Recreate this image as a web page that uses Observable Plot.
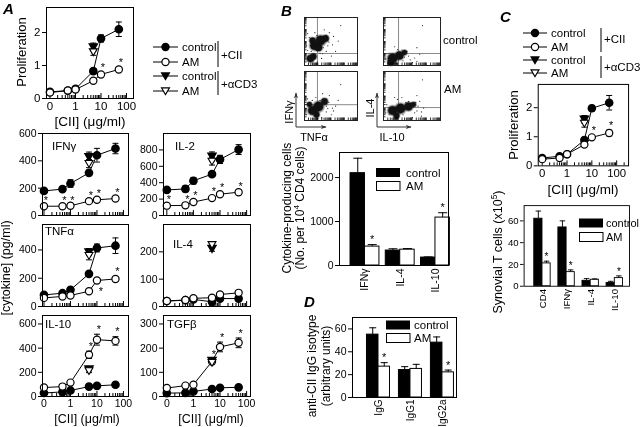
<!DOCTYPE html>
<html><head><meta charset="utf-8">
<script src="https://cdn.jsdelivr.net/npm/d3@7"></script>
<script src="https://cdn.jsdelivr.net/npm/@observablehq/plot@0.6"></script>
<style>
body{margin:0;background:#fff}
#fig{position:relative;width:640px;height:427px;overflow:hidden;background:#fff;font-family:"Liberation Sans",Arial,sans-serif}
#fig .pl{position:absolute;will-change:transform}
#ov{position:absolute;left:0;top:0;overflow:visible}
</style></head><body><div id="fig"></div>
<script>
// ---------------- DATA ----------------
const conc = [0, 0.5, 1, 5, 10, 50];     // [CII] µg/ml (0 drawn at axis origin)
const cd3Dose = 5;                         // alpha-CD3 points drawn at this column

// A: proliferation
const prolA_ctrl = [0.20, 0.24, 0.29, 0.83, 1.82, 2.10];
const prolA_ctrlErr = [0.03, 0.03, 0.04, 0.08, 0.11, 0.22];
const prolA_am = [0.18, 0.24, 0.27, 0.54, 0.73, 0.88];
const prolA_amErr = [0.03, 0.03, 0.03, 0.05, 0.06, 0.06];
const prolA_cd3 = [1.56, 0.12, 1.41, 0.10]; // control, err, AM, err
const prolA_stars = [4, 5];

// A: cytokines (pg/ml)
const ifng_ctrl = [180, 193, 234, 312, 441, 490];
const ifng_ctrlErr = [10, 10, 28, 15, 50, 38];
const ifng_am = [68, 68, 71, 105, 115, 124];
const ifng_amErr = [5, 5, 5, 8, 8, 8];
const ifng_cd3 = [429, 35, 380, 30];
const ifng_stars = [0, 1, 2, 3, 4, 5];

const il2_ctrl = [312, 324, 424, 504, 684, 804];
const il2_ctrlErr = [20, 35, 40, 20, 50, 60];
const il2_am = [120, 124, 164, 212, 260, 284];
const il2_amErr = [10, 10, 15, 15, 15, 15];
const il2_cd3 = [720, 55, 660, 45];
const il2_stars = [0, 1, 2, 3, 4, 5];

const tnf_ctrl = [82, 94, 118, 231, 414, 430];
const tnf_ctrlErr = [12, 10, 12, 15, 28, 55];
const tnf_am = [61, 71, 78, 108, 184, 195];
const tnf_amErr = [8, 5, 5, 8, 8, 15];
const tnf_cd3 = [385, 25, 360, 30];
const tnf_stars = [5];
const tnf_starsBelow = [4];

const il4_ctrl = [20, 23, 26, 17, 29, 29];
const il4_ctrlErr = [3, 3, 3, 3, 3, 3];
const il4_am = [20, 24, 30, 32, 44, 50];
const il4_amErr = [3, 3, 3, 3, 4, 4];
const il4_cd3 = [212, 10, 226, 10];
const il4_stars = [];

const il10_ctrl = [29, 38, 50, 82, 88, 97];
const il10_ctrlErr = [5, 5, 5, 8, 8, 8];
const il10_am = [74, 82, 115, 345, 470, 460];
const il10_amErr = [8, 8, 8, 30, 45, 35];
const il10_cd3 = [226, 15, 212, 15];
const il10_stars = [3, 4, 5];

const tgf_ctrl = [14, 15, 21, 31, 36, 38];
const tgf_ctrlErr = [2, 2, 3, 3, 3, 3];
const tgf_am = [35, 45, 49, 145, 205, 222];
const tgf_amErr = [3, 3, 4, 10, 20, 20];
const tgf_cd3 = [148, 8, 140, 8];
const tgf_stars = [3, 4, 5];

// C: proliferation
const prolC_ctrl = [0.27, 0.33, 0.40, 0.89, 1.98, 2.17];
const prolC_ctrlErr = [0.03, 0.03, 0.04, 0.06, 0.10, 0.25];
const prolC_am = [0.23, 0.27, 0.40, 0.73, 0.98, 1.13];
const prolC_amErr = [0.03, 0.03, 0.03, 0.05, 0.06, 0.10];
const prolC_cd3 = [1.60, 0.13, 1.46, 0.13];
const prolC_stars = [4, 5];

// B: cytokine-producing cells
const facsCats = ["IFNγ", "IL-4", "IL-10"];
const facs_ctrl = [2100, 340, 180];
const facs_ctrlErr = [340, 40, 15];
const facs_am = [430, 360, 1090];
const facs_amErr = [45, 25, 110];
const facs_stars = [0, 2];

// C: synovial T cells (x10^5)
const synCats = ["CD4", "IFNγ", "IL-4", "IL-10"];
const syn_ctrl = [62, 54, 5, 3];
const syn_ctrlErr = [7, 6, 2, 1.5];
const syn_am = [21, 13, 6, 7.5];
const syn_amErr = [2, 2, 0.7, 2];
const syn_stars = [0, 1, 3];

// D: anti-CII IgG isotype
const igCats = ["IgG", "IgG1", "IgG2a"];
const ig_ctrl = [55, 24, 48];
const ig_ctrlErr = [6, 3, 5];
const ig_am = [27, 25, 22];
const ig_amErr = [3.5, 4, 2];
const ig_stars = [0, 2];

// B: flow cytometry (channel units 0-1023, 4 log decades); clusters [x, y, events]
const flowTL_clusters = [[193,426,36],[309,533,42],[405,575,20],[154,533,16],[270,384,25],[116,149,25],[174,192,16]];
const flowBL_clusters = [[154,209,36],[270,292,42],[386,397,20],[232,125,16],[96,334,12]];
const flowTR_clusters = [[162,149,42],[287,213,30],[377,277,12],[126,64,16]];
const flowBR_clusters = [[162,209,36],[305,251,42],[449,292,30],[538,334,12],[233,104,16]];
const flowTL_events = [[420,300],[480,700],[560,620],[380,760],[520,200],[650,520],[330,150],[600,300],[700,850],[90,600],[450,420],[200,700],[60,320],[350,250],[470,500],[250,80],[540,440],[420,640],[60,680],[130,300],[240,640],[360,380],[40,420],[300,260]];
const flowBL_events = [[420,300],[480,520],[560,200],[350,560],[520,120],[650,420],[330,60],[600,300],[700,750],[60,450],[450,250],[220,480],[40,120],[300,420],[470,380],[260,40],[540,260],[150,420],[30,250],[420,180]];
const flowTR_events = [[420,300],[480,120],[560,160],[330,330],[520,60],[650,240],[250,340],[600,380],[700,850],[60,250],[450,200],[200,400],[40,140],[350,100],[470,30],[600,90],[230,40],[100,260],[380,180]];
const flowBR_events = [[620,300],[680,180],[560,160],[330,480],[720,260],[650,400],[250,440],[600,520],[700,850],[60,330],[450,400],[200,480],[40,160],[350,120],[520,60],[600,200],[680,90],[100,120],[400,380],[580,380]];
const flowTL_gate = [250, 256], flowBL_gate = [250, 330], flowTR_gate = [270, 256], flowBR_gate = [270, 270];

// ---------------- HELPERS ----------------
const FONT = '"Liberation Sans", Arial, Helvetica, sans-serif';
const fig = document.getElementById("fig");
function place(frame, opts, fontSize = "10.5px") {
  const ml = 40, mr = 12, mt = 10, mb = 40;
  const w = frame[2] - frame[0], h = frame[3] - frame[1];
  const svg = Plot.plot({
    width: w + ml + mr, height: h + mt + mb,
    marginLeft: ml, marginRight: mr, marginTop: mt, marginBottom: mb,
    style: {background: "none", overflow: "visible", fontFamily: FONT, fontSize, color: "black"},
    ...opts
  });
  const div = document.createElement("div");
  div.className = "pl";
  div.style.left = (frame[0] - ml) + "px";
  div.style.top = (frame[1] - mt) + "px";
  div.appendChild(svg);
  fig.appendChild(div);
}
const xv = c => c === 0 ? 0.1 : c;
const num = d => String(d);
const capSym = w => ({draw(ctx) { ctx.moveTo(-w, 0); ctx.lineTo(w, 0); }});
const triDown = {draw(ctx, size) { const r = Math.sqrt(size / Math.PI); ctx.moveTo(0, r * 1.1); ctx.lineTo(-r * 1.2, -r * 0.95); ctx.lineTo(r * 1.2, -r * 0.95); ctx.closePath(); }};
function errMarks(d, w = 3, both = true) {
  d = d.filter(r => r.e > 0);
  const m = [
    Plot.ruleX(d, {x: "xc", y1: r => both ? r.y - r.e : r.y, y2: r => r.y + r.e, stroke: "black", strokeWidth: 1}),
    Plot.dot(d, {x: "xc", y: r => r.y + r.e, symbol: capSym(w), r: 3, stroke: "black", fill: "none", strokeWidth: 1})
  ];
  if (both) m.push(Plot.dot(d, {x: "xc", y: r => r.y - r.e, symbol: capSym(w), r: 3, stroke: "black", fill: "none", strokeWidth: 1}));
  return m;
}
function logTicks(lo, hi) {
  const t = [];
  for (let d = -1; d <= 3; d++) for (let k = 1; k <= 9; k++) { const v = +(k * Math.pow(10, d)).toPrecision(3); if (v >= lo && v <= hi) t.push({v, major: k === 1}); }
  return t;
}
function linePanel(p) {
  const h = p.frame[3] - p.frame[1];
  const mk = (vals, errs) => vals.map((v, i) => ({xc: xv(conc[i]), y: v, e: errs[i]}));
  const c = mk(p.ctrl, p.ctrlErr), a = mk(p.am, p.amErr);
  const tc = [{xc: cd3Dose, y: p.cd3[0], e: p.cd3[1]}], ta = [{xc: cd3Dose, y: p.cd3[2], e: p.cd3[3]}];
  const ticks = logTicks(p.xdom[0], p.xdom[1]);
  const up = (p.stars || []).map(i => a[i]);
  const down = (p.starsBelow || []).map(i => a[i]);
  const marks = [
    Plot.ruleX(ticks.filter(t => t.major), {x: "v", insetTop: h - 5, stroke: "black"}),
    Plot.ruleX(ticks.filter(t => !t.major), {x: "v", insetTop: h - 3, stroke: "black"}),
    Plot.axisY({ticks: p.yticks, tickFormat: num, tickSize: 4, tickPadding: 2, label: null}),
    Plot.line(c, {x: "xc", y: "y", stroke: "black", strokeWidth: 1}),
    Plot.line(a, {x: "xc", y: "y", stroke: "black", strokeWidth: 1}),
    ...errMarks(c), ...errMarks(a), ...errMarks(tc), ...errMarks(ta),
    Plot.dot(c, {x: "xc", y: "y", r: 3.6, fill: "black", stroke: "black"}),
    Plot.dot(a, {x: "xc", y: "y", r: 3.6, fill: "white", stroke: "black", strokeWidth: 1.2}),
    Plot.dot(tc, {x: "xc", y: "y", r: 3.3, symbol: triDown, fill: "black", stroke: "black"}),
    Plot.dot(ta, {x: "xc", y: "y", r: 3.3, symbol: triDown, fill: "white", stroke: "black", strokeWidth: 1.1}),
    Plot.text(up, {x: "xc", y: r => r.y + r.e, text: () => "*", dx: 2, dy: -5, fontSize: 11, fill: "black"}),
    Plot.text(down, {x: "xc", y: r => r.y - r.e, text: () => "*", dx: 4, dy: 10, fontSize: 11, fill: "black"}),
    Plot.frame({stroke: "black"})
  ];
  if (p.xlabels) marks.push(Plot.axisX({ticks: [0.1, 1, 10, 100], tickFormat: d => d === 0.1 ? "0" : String(d), tickSize: 0, tickPadding: 3, label: null}));
  place(p.frame, {x: {type: "log", domain: p.xdom, ...(p.xlabels ? {} : {axis: null})}, y: {domain: p.ydom}, marks}, p.font || "10.5px");
}
function barPanel(p) {
  const hw = p.hw;
  const c = p.ctrl.map((v, i) => ({x1: i - hw, x2: i, xc: i - hw / 2, y: v, e: p.ctrlErr[i]}));
  const a = p.am.map((v, i) => ({x1: i, x2: i + hw, xc: i + hw / 2, y: v, e: p.amErr[i]}));
  const st = p.stars.map(i => a[i]);
  const marks = [
    Plot.rect(c, {x1: "x1", x2: "x2", y1: 0, y2: "y", fill: "black", stroke: "black", strokeWidth: 1}),
    Plot.rect(a, {x1: "x1", x2: "x2", y1: 0, y2: "y", fill: "white", stroke: "black", strokeWidth: 1}),
    ...errMarks(c, p.cap, false), ...errMarks(a, p.cap, false),
    Plot.text(st, {x: "xc", y: r => r.y + r.e, text: () => "*", dy: -5, fontSize: 11, fill: "black"}),
    Plot.axisY({ticks: p.yticks, tickFormat: num, tickSize: 4, tickPadding: 2, label: null}),
    Plot.axisX({ticks: p.cats.map((_, i) => i), tickFormat: i => p.cats[i], tickRotate: -90, tickSize: 0, tickPadding: p.lpad ?? 3, label: null, fontSize: p.lfont || 10.5}),
    Plot.frame({stroke: "black"})
  ];
  place(p.frame, {x: {domain: p.xdom}, y: {domain: p.ydom}, marks}, "10.5px");
}
function flowPanel(frame, clusters, events, gate) {
  const w = frame[2] - frame[0], h = frame[3] - frame[1];
  const ticks = [];
  for (let d = 0; d < 4; d++) for (let k = 1; k <= 9; k++) ticks.push(256 * Math.log10(k * Math.pow(10, d)));
  const cl = clusters.map(([x, y, n]) => ({x, y, n}));
  const ev = events.map(([x, y]) => ({x, y}));
  const marks = [
    Plot.ruleX([gate[0]], {stroke: "#8a8a8a", strokeWidth: 1}),
    Plot.ruleY([gate[1]], {stroke: "#8a8a8a", strokeWidth: 1}),
    Plot.dot(ev, {x: "x", y: "y", r: 0.6, fill: "#222"}),
    Plot.dot(cl, {x: "x", y: "y", r: d => d.n * 2.0, fill: "#000", fillOpacity: 0.22}),
    Plot.dot(cl, {x: "x", y: "y", r: d => d.n * 1.4, fill: "#000", fillOpacity: 0.4}),
    Plot.dot(cl, {x: "x", y: "y", r: "n", fill: "#111"}),
    Plot.ruleY(ticks, {y: d => d, insetRight: w - 2.5, stroke: "black", strokeWidth: 0.8}),
    Plot.ruleX(ticks, {x: d => d, insetTop: h - 2.5, stroke: "black", strokeWidth: 0.8}),
    Plot.frame({stroke: "#222"})
  ];
  place(frame, {x: {domain: [0, 1023], axis: null}, y: {domain: [0, 1023], axis: null}, r: {type: "sqrt", domain: [0, 100], range: [0, 7.2]}, marks});
}

// ---------------- PANELS ----------------
const LX = [0.088, 155], RX = [0.075, 140];
linePanel({frame: [46, 7, 133, 98], xdom: [0.073, 188], ydom: [0, 2.76], yticks: [0, 1, 2], ctrl: prolA_ctrl, ctrlErr: prolA_ctrlErr, am: prolA_am, amErr: prolA_amErr, cd3: prolA_cd3, stars: prolA_stars, xlabels: true, font: "11.5px"});
linePanel({frame: [42, 133, 128, 215], xdom: LX, ydom: [0, 600], yticks: [0, 200, 400, 600], ctrl: ifng_ctrl, ctrlErr: ifng_ctrlErr, am: ifng_am, amErr: ifng_amErr, cd3: ifng_cd3, stars: ifng_stars});
linePanel({frame: [163, 133, 250, 215], xdom: RX, ydom: [0, 1000], yticks: [0, 200, 400, 600, 800], ctrl: il2_ctrl, ctrlErr: il2_ctrlErr, am: il2_am, amErr: il2_amErr, cd3: il2_cd3, stars: il2_stars});
linePanel({frame: [42, 224, 128, 306], xdom: LX, ydom: [0, 580], yticks: [0, 200, 400], ctrl: tnf_ctrl, ctrlErr: tnf_ctrlErr, am: tnf_am, amErr: tnf_amErr, cd3: tnf_cd3, stars: tnf_stars, starsBelow: tnf_starsBelow});
linePanel({frame: [163, 224, 250, 306], xdom: RX, ydom: [0, 300], yticks: [0, 100, 200], ctrl: il4_ctrl, ctrlErr: il4_ctrlErr, am: il4_am, amErr: il4_amErr, cd3: il4_cd3, stars: il4_stars});
linePanel({frame: [42, 315, 128, 396], xdom: LX, ydom: [0, 670], yticks: [0, 200, 400, 600], ctrl: il10_ctrl, ctrlErr: il10_ctrlErr, am: il10_am, amErr: il10_amErr, cd3: il10_cd3, stars: il10_stars, xlabels: true});
linePanel({frame: [163, 315, 250, 396], xdom: RX, ydom: [0, 335], yticks: [0, 100, 200, 300], ctrl: tgf_ctrl, ctrlErr: tgf_ctrlErr, am: tgf_am, amErr: tgf_amErr, cd3: tgf_cd3, stars: tgf_stars, xlabels: true});
linePanel({frame: [538, 84, 629, 166], xdom: [0.069, 302], ydom: [0, 2.8], yticks: [0, 1, 2], ctrl: prolC_ctrl, ctrlErr: prolC_ctrlErr, am: prolC_am, amErr: prolC_amErr, cd3: prolC_cd3, stars: prolC_stars, xlabels: true, font: "11.5px"});

flowPanel([304, 17, 357, 65], flowTL_clusters, flowTL_events, flowTL_gate);
flowPanel([304, 71, 357, 120], flowBL_clusters, flowBL_events, flowBL_gate);
flowPanel([383, 17, 440, 65], flowTR_clusters, flowTR_events, flowTR_gate);
flowPanel([383, 71, 440, 120], flowBR_clusters, flowBR_events, flowBR_gate);

barPanel({frame: [339, 152, 448, 265], xdom: [-0.723, 2.37], ydom: [0, 2570], yticks: [0, 1000, 2000], hw: 0.41, cap: 4.5, cats: facsCats, ctrl: facs_ctrl, ctrlErr: facs_ctrlErr, am: facs_am, amErr: facs_amErr, stars: facs_stars});
barPanel({frame: [527, 206, 642, 294], xdom: [-0.76, 3.61], ydom: [0, 74], yticks: [0, 20, 40, 60], hw: 0.34, cap: 3, cats: synCats, ctrl: syn_ctrl, ctrlErr: syn_ctrlErr, am: syn_am, amErr: syn_amErr, stars: syn_stars});
barPanel({frame: [352, 317, 456, 397], xdom: [-0.8125, 2.44], ydom: [0, 70], yticks: [0, 20, 40, 60], hw: 0.36, cap: 3.5, cats: igCats, ctrl: ig_ctrl, ctrlErr: ig_ctrlErr, am: ig_am, amErr: ig_amErr, stars: ig_stars, lfont: 10, lpad: 2});

// ---------------- OVERLAY TEXT / LEGENDS ----------------
const T = (x, y, s, o = {}) => `<text x="${x}" y="${y}" font-size="${o.size || 11}" text-anchor="${o.anchor || 'start'}" dominant-baseline="${o.base || 'central'}"${o.rot ? ` transform="rotate(${o.rot} ${x} ${y})"` : ''}${o.extra || ''}>${s}</text>`;
const L = (x1, y1, x2, y2, o = '') => `<line x1="${x1}" y1="${y1}" x2="${x2}" y2="${y2}" stroke="black" stroke-width="1" ${o}/>`;
const tri = (cx, cy, fill) => `<path d="M${cx},${cy + 3.6} L${cx - 4},${cy - 3.1} L${cx + 4},${cy - 3.1} Z" fill="${fill}" stroke="black" stroke-width="1.1"/>`;
const circ = (cx, cy, fill) => `<circle cx="${cx}" cy="${cy}" r="3.6" fill="${fill}" stroke="black" stroke-width="1.2"/>`;
function lineLegend(x1, x2, rows, tx, bx, b1, b2, l1y, l2y) {
  const labels = ["control", "AM", "control", "AM"];
  const mkr = [circ, circ, tri, tri], fills = ["black", "white", "black", "white"];
  let s = '';
  rows.forEach((y, i) => { s += L(x1, y, x2, y) + mkr[i]((x1 + x2) / 2, y, fills[i]) + T(tx, y, labels[i], {size: 11.5}); });
  s += L(bx, b1[0], bx, b1[1]) + L(bx, b2[0], bx, b2[1]);
  s += T(bx + 3, l1y, "+CII", {size: 11.5}) + T(bx + 3, l2y, "+αCD3", {size: 11.5});
  return s;
}
function barLegend(x, y1, y2, tx, size = 11.5) {
  return `<rect x="${x}" y="${y1 - 4.5}" width="24" height="9" fill="black"/>` + T(tx, y1, "control", {size}) +
    `<rect x="${x + 0.5}" y="${y2 - 4.5}" width="23.5" height="9" fill="white" stroke="black"/>` + T(tx, y2, "AM", {size});
}
const letter = (x, y, s) => `<text x="${x}" y="${y}" font-size="15" font-weight="bold" font-style="italic">${s}</text>`;
let ov = `<defs><marker id="ah" viewBox="0 0 10 10" refX="9" refY="5" markerWidth="6" markerHeight="6" orient="auto"><path d="M0,1.5 L10,5 L0,8.5 L3,5 Z" fill="#333"/></marker></defs>`;
ov += letter(3, 14, "A") + letter(281, 16, "B") + letter(500, 22, "C") + letter(304, 307, "D");
// A
ov += T(21, 52, "Proliferation", {size: 13, anchor: "middle", rot: -90});
ov += T(90, 121, "[CII] (μg/ml)", {size: 13.5, anchor: "middle"});
ov += lineLegend(153, 178, [47, 62, 76, 91], 182, 218, [41, 67], [71, 95], 55, 84);
ov += T(6, 268, "[cytokine] (pg/ml)", {size: 12.5, anchor: "middle", rot: -90});
ov += T(52, 146, "IFNγ", {size: 11.5}) + T(175, 146, "IL-2", {size: 11.5});
ov += T(45, 231, "TNFα", {size: 11.5}) + T(173, 244, "IL-4", {size: 11.5});
ov += T(45, 324, "IL-10", {size: 11.5}) + T(167, 324, "TGFβ", {size: 11.5});
ov += T(87, 419, "[CII] (μg/ml)", {size: 12.5, anchor: "middle"}) + T(211, 419, "[CII] (μg/ml)", {size: 12.5, anchor: "middle"});
// B flow
ov += T(443, 40, "control", {size: 11.5}) + T(444, 89, "AM", {size: 11.5});
ov += `<g stroke="#333" stroke-width="1" fill="none">` +
  `<line x1="296" y1="127" x2="296" y2="93" marker-end="url(#ah)"/><line x1="296" y1="127" x2="326" y2="127" marker-end="url(#ah)"/>` +
  `<line x1="377" y1="127" x2="377" y2="93" marker-end="url(#ah)"/><line x1="377" y1="127" x2="411" y2="127" marker-end="url(#ah)"/></g>`;
ov += T(289, 112, "IFNγ", {size: 11, anchor: "middle", rot: -90}) + T(314, 137, "TNFα", {size: 11, anchor: "middle"});
ov += T(370, 108, "IL-4", {size: 11, anchor: "middle", rot: -90}) + T(392, 137, "IL-10", {size: 11, anchor: "middle"});
// B bars
ov += T(287, 208, "Cytokine-producing cells", {size: 12, anchor: "middle", rot: -90});
ov += `<text x="300" y="208" font-size="12" text-anchor="middle" dominant-baseline="central" transform="rotate(-90 300 208)">(No. per 10<tspan font-size="8" dy="-4">4</tspan><tspan dy="4"> CD4 cells)</tspan></text>`;
ov += barLegend(376, 172.5, 186, 406);
// C
ov += lineLegend(523, 547, [33, 47, 60, 73], 551, 601, [28, 52], [56, 78], 39, 67);
ov += T(513, 125, "Proliferation", {size: 13, anchor: "middle", rot: -90});
ov += T(583, 189, "[CII] (μg/ml)", {size: 13.5, anchor: "middle"});
ov += `<text x="498" y="252" font-size="12.5" text-anchor="middle" dominant-baseline="central" transform="rotate(-90 498 252)">Synovial T cells (x10<tspan font-size="8.5" dy="-4">5</tspan><tspan dy="4">)</tspan></text>`;
ov += barLegend(579, 223, 237, 606, 11);
// D
ov += T(312, 366, "anti-CII IgG isotype", {size: 12, anchor: "middle", rot: -90});
ov += T(326, 366, "(arbitrary units)", {size: 12, anchor: "middle", rot: -90});
ov += barLegend(386, 325, 338, 414);

const ns = "http://www.w3.org/2000/svg";
const osvg = document.createElementNS(ns, "svg");
osvg.setAttribute("id", "ov"); osvg.setAttribute("width", 640); osvg.setAttribute("height", 427);
osvg.setAttribute("font-family", FONT);
osvg.innerHTML = ov;
fig.appendChild(osvg);
</script></body></html>
